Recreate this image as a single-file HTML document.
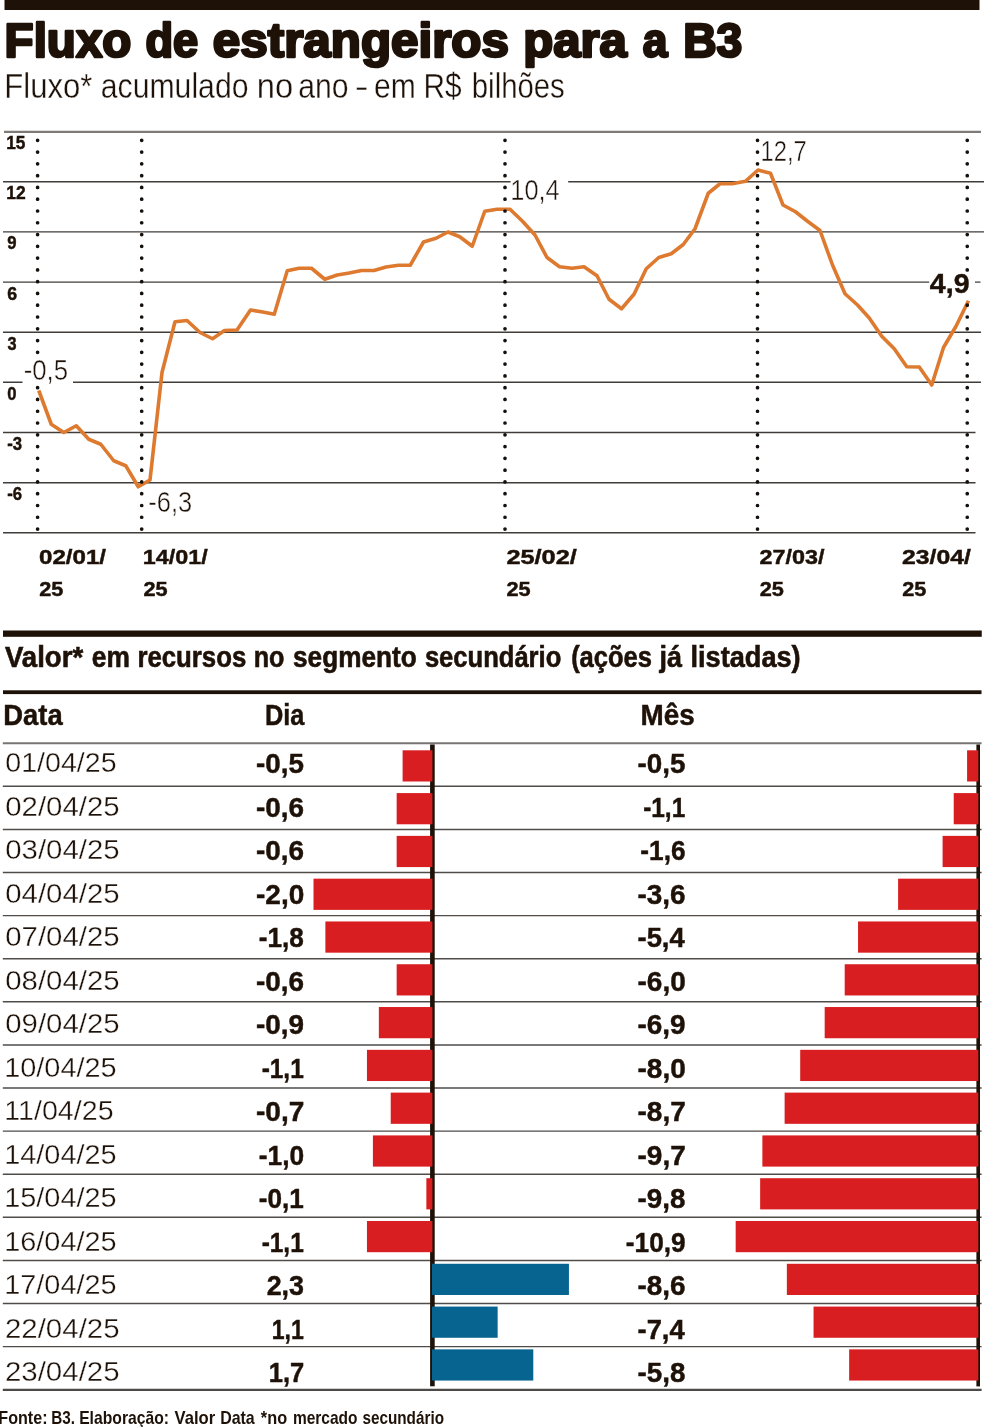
<!DOCTYPE html>
<html lang="pt-BR">
<head>
<meta charset="utf-8">
<title>Fluxo de estrangeiros para a B3</title>
<style>
html,body{margin:0;padding:0;background:#fff;}
body{width:984px;height:1427px;overflow:hidden;font-family:"Liberation Sans",sans-serif;}
svg{display:block;font-family:"Liberation Sans",sans-serif;will-change:transform;}
text{white-space:pre;}
</style>
</head>
<body>
<svg width="984" height="1427" viewBox="0 0 984 1427" font-family="'Liberation Sans', sans-serif" role="img" aria-label="Fluxo de estrangeiros para a B3">
<rect x="0" y="0" width="984" height="1427" fill="#ffffff"/>
<rect x="4.50" y="0.00" width="975.00" height="10.00" fill="#1d1108"/>
<g>
<text x="4.62" y="57.10" font-size="47.38" font-weight="700" textLength="126.74" lengthAdjust="spacingAndGlyphs" fill="#1d1108" stroke="#1d1108" stroke-width="2.6" stroke-linejoin="round">Fluxo</text>
<text x="145.44" y="57.10" font-size="47.38" font-weight="700" textLength="52.80" lengthAdjust="spacingAndGlyphs" fill="#1d1108" stroke="#1d1108" stroke-width="2.6" stroke-linejoin="round">de</text>
<text x="212.87" y="57.10" font-size="47.38" font-weight="700" textLength="296.05" lengthAdjust="spacingAndGlyphs" fill="#1d1108" stroke="#1d1108" stroke-width="2.6" stroke-linejoin="round">estrangeiros</text>
<text x="523.27" y="57.10" font-size="47.38" font-weight="700" textLength="103.62" lengthAdjust="spacingAndGlyphs" fill="#1d1108" stroke="#1d1108" stroke-width="2.6" stroke-linejoin="round">para</text>
<text x="642.80" y="57.10" font-size="47.38" font-weight="700" textLength="24.72" lengthAdjust="spacingAndGlyphs" fill="#1d1108" stroke="#1d1108" stroke-width="2.6" stroke-linejoin="round">a</text>
<text x="683.20" y="57.10" font-size="47.38" font-weight="700" textLength="59.17" lengthAdjust="spacingAndGlyphs" fill="#1d1108" stroke="#1d1108" stroke-width="2.6" stroke-linejoin="round">B3</text>
</g>
<g>
<text x="4.25" y="98.00" font-size="34.59" textLength="88.14" lengthAdjust="spacingAndGlyphs" fill="#1d1108" stroke="#fff" stroke-width="0.35">Fluxo*</text>
<text x="100.82" y="98.00" font-size="34.59" textLength="147.65" lengthAdjust="spacingAndGlyphs" fill="#1d1108" stroke="#fff" stroke-width="0.35">acumulado</text>
<text x="256.72" y="98.00" font-size="34.59" textLength="36.45" lengthAdjust="spacingAndGlyphs" fill="#1d1108" stroke="#fff" stroke-width="0.35">no</text>
<text x="298.22" y="98.00" font-size="34.59" textLength="50.35" lengthAdjust="spacingAndGlyphs" fill="#1d1108" stroke="#fff" stroke-width="0.35">ano</text>
<text x="354.74" y="98.00" font-size="34.59" textLength="13.91" lengthAdjust="spacingAndGlyphs" fill="#1d1108" stroke="#fff" stroke-width="0.35">-</text>
<text x="374.02" y="98.00" font-size="34.59" textLength="41.76" lengthAdjust="spacingAndGlyphs" fill="#1d1108" stroke="#fff" stroke-width="0.35">em</text>
<text x="423.55" y="98.00" font-size="34.59" textLength="38.13" lengthAdjust="spacingAndGlyphs" fill="#1d1108" stroke="#fff" stroke-width="0.35">R$</text>
<text x="471.81" y="98.00" font-size="34.59" textLength="92.95" lengthAdjust="spacingAndGlyphs" fill="#1d1108" stroke="#fff" stroke-width="0.35">bilhões</text>
</g>
<line x1="4.00" y1="131.90" x2="981.00" y2="131.90" stroke="#7d7a78" stroke-width="2.2" />
<line x1="3.00" y1="181.70" x2="984.00" y2="181.70" stroke="#403c3a" stroke-width="1.4" />
<line x1="3.00" y1="231.90" x2="984.00" y2="231.90" stroke="#403c3a" stroke-width="1.4" />
<line x1="3.00" y1="282.10" x2="980.50" y2="282.10" stroke="#403c3a" stroke-width="1.4" />
<line x1="3.00" y1="332.20" x2="981.00" y2="332.20" stroke="#403c3a" stroke-width="1.4" />
<line x1="3.00" y1="382.30" x2="981.00" y2="382.30" stroke="#403c3a" stroke-width="1.4" />
<line x1="3.00" y1="432.50" x2="975.50" y2="432.50" stroke="#403c3a" stroke-width="1.4" />
<line x1="3.00" y1="482.70" x2="975.50" y2="482.70" stroke="#403c3a" stroke-width="1.4" />
<line x1="3.00" y1="532.80" x2="975.50" y2="532.80" stroke="#403c3a" stroke-width="1.4" />
<text x="6.21" y="149.40" font-size="18.02" font-weight="700" textLength="19.16" lengthAdjust="spacingAndGlyphs" fill="#1d1108" stroke="#1d1108" stroke-width="0.45">15</text>
<text x="6.20" y="199.20" font-size="18.02" font-weight="700" textLength="19.40" lengthAdjust="spacingAndGlyphs" fill="#1d1108" stroke="#1d1108" stroke-width="0.45">12</text>
<text x="7.22" y="249.40" font-size="18.02" font-weight="700" textLength="9.30" lengthAdjust="spacingAndGlyphs" fill="#1d1108" stroke="#1d1108" stroke-width="0.45">9</text>
<text x="7.15" y="299.60" font-size="18.02" font-weight="700" textLength="9.89" lengthAdjust="spacingAndGlyphs" fill="#1d1108" stroke="#1d1108" stroke-width="0.45">6</text>
<text x="7.43" y="349.70" font-size="18.02" font-weight="700" textLength="9.06" lengthAdjust="spacingAndGlyphs" fill="#1d1108" stroke="#1d1108" stroke-width="0.45">3</text>
<text x="7.34" y="399.80" font-size="18.02" font-weight="700" textLength="9.24" lengthAdjust="spacingAndGlyphs" fill="#1d1108" stroke="#1d1108" stroke-width="0.45">0</text>
<text x="7.15" y="450.00" font-size="18.02" font-weight="700" textLength="14.86" lengthAdjust="spacingAndGlyphs" fill="#1d1108" stroke="#1d1108" stroke-width="0.45">-3</text>
<text x="7.15" y="500.20" font-size="18.02" font-weight="700" textLength="14.86" lengthAdjust="spacingAndGlyphs" fill="#1d1108" stroke="#1d1108" stroke-width="0.45">-6</text>
<polyline fill="none" stroke="#dd7a2f" stroke-width="3.6" stroke-linejoin="round" stroke-linecap="butt" points="38.75,390.50 51.25,424.25 63.75,432.50 76.25,425.75 88.75,439.25 100.75,444.25 113.75,460.75 125.75,465.75 138.25,486.75 150.00,480.00 162.00,372.50 175.00,321.75 187.00,320.50 200.00,332.50 212.50,338.75 224.50,330.50 237.00,330.00 250.50,310.00 262.75,312.00 274.25,314.25 287.25,270.75 299.00,268.25 311.50,268.25 324.75,279.25 337.25,275.00 349.25,273.00 361.50,270.50 374.00,270.50 386.00,267.00 398.50,265.25 410.25,265.25 423.50,242.00 436.00,238.25 448.00,232.00 459.75,236.75 472.25,246.25 484.75,211.25 497.00,209.25 510.00,209.25 522.50,221.25 535.00,235.00 547.00,257.50 559.50,266.75 572.00,268.25 584.00,266.75 597.00,275.75 609.00,299.25 621.50,308.75 634.00,294.25 646.25,268.75 658.75,257.50 671.25,253.75 683.25,244.50 695.00,228.75 708.25,193.25 720.00,183.75 732.00,183.75 745.50,181.25 758.00,170.00 770.50,173.25 783.00,205.00 795.50,211.75 807.50,221.25 820.00,230.50 832.50,265.00 845.00,293.75 857.50,305.00 869.25,318.00 881.75,336.25 894.25,348.75 906.75,366.75 919.25,367.00 931.75,385.00 943.50,347.50 956.00,326.25 968.50,300.75"/>
<line x1="37.60" y1="140.30" x2="37.60" y2="530.00" stroke="#15100c" stroke-width="3.7" stroke-dasharray="0 11.78" stroke-linecap="round"/>
<line x1="141.70" y1="140.30" x2="141.70" y2="530.00" stroke="#15100c" stroke-width="3.7" stroke-dasharray="0 11.78" stroke-linecap="round"/>
<line x1="505.00" y1="140.30" x2="505.00" y2="530.00" stroke="#15100c" stroke-width="3.7" stroke-dasharray="0 11.78" stroke-linecap="round"/>
<line x1="757.50" y1="140.30" x2="757.50" y2="530.00" stroke="#15100c" stroke-width="3.7" stroke-dasharray="0 11.78" stroke-linecap="round"/>
<line x1="967.25" y1="140.30" x2="967.25" y2="530.00" stroke="#15100c" stroke-width="3.7" stroke-dasharray="0 11.78" stroke-linecap="round"/>
<rect x="22.50" y="358.00" width="50.50" height="27.00" fill="#fff"/>
<rect x="510.60" y="177.00" width="57.60" height="26.00" fill="#fff"/>
<rect x="929.20" y="272.20" width="45.80" height="24.80" fill="#fff"/>
<text x="23.65" y="379.90" font-size="29.07" textLength="44.43" lengthAdjust="spacingAndGlyphs" fill="#1d1108" stroke="#fff" stroke-width="0.45">-0,5</text>
<text x="148.27" y="512.20" font-size="29.07" textLength="43.85" lengthAdjust="spacingAndGlyphs" fill="#1d1108" stroke="#fff" stroke-width="0.45">-6,3</text>
<text x="510.37" y="200.20" font-size="29.07" textLength="49.38" lengthAdjust="spacingAndGlyphs" fill="#1d1108" stroke="#fff" stroke-width="0.45">10,4</text>
<text x="760.49" y="161.40" font-size="29.07" textLength="46.20" lengthAdjust="spacingAndGlyphs" fill="#1d1108" stroke="#fff" stroke-width="0.45">12,7</text>
<text x="929.87" y="292.60" font-size="28.05" font-weight="700" textLength="39.69" lengthAdjust="spacingAndGlyphs" fill="#1d1108" stroke="#1d1108" stroke-width="0.45">4,9</text>
<text x="39.05" y="563.60" font-size="20.93" font-weight="700" textLength="66.99" lengthAdjust="spacingAndGlyphs" fill="#1d1108" stroke="#1d1108" stroke-width="0.45">02/01/</text>
<text x="39.25" y="595.90" font-size="20.93" font-weight="700" textLength="24.16" lengthAdjust="spacingAndGlyphs" fill="#1d1108" stroke="#1d1108" stroke-width="0.45">25</text>
<text x="142.73" y="563.60" font-size="20.93" font-weight="700" textLength="64.90" lengthAdjust="spacingAndGlyphs" fill="#1d1108" stroke="#1d1108" stroke-width="0.45">14/01/</text>
<text x="143.45" y="595.90" font-size="20.93" font-weight="700" textLength="24.16" lengthAdjust="spacingAndGlyphs" fill="#1d1108" stroke="#1d1108" stroke-width="0.45">25</text>
<text x="506.42" y="563.60" font-size="20.93" font-weight="700" textLength="70.43" lengthAdjust="spacingAndGlyphs" fill="#1d1108" stroke="#1d1108" stroke-width="0.45">25/02/</text>
<text x="506.55" y="595.90" font-size="20.93" font-weight="700" textLength="24.16" lengthAdjust="spacingAndGlyphs" fill="#1d1108" stroke="#1d1108" stroke-width="0.45">25</text>
<text x="759.59" y="563.60" font-size="20.93" font-weight="700" textLength="64.99" lengthAdjust="spacingAndGlyphs" fill="#1d1108" stroke="#1d1108" stroke-width="0.45">27/03/</text>
<text x="759.65" y="595.90" font-size="20.93" font-weight="700" textLength="24.16" lengthAdjust="spacingAndGlyphs" fill="#1d1108" stroke="#1d1108" stroke-width="0.45">25</text>
<text x="902.04" y="563.60" font-size="20.93" font-weight="700" textLength="68.80" lengthAdjust="spacingAndGlyphs" fill="#1d1108" stroke="#1d1108" stroke-width="0.45">23/04/</text>
<text x="902.15" y="595.90" font-size="20.93" font-weight="700" textLength="24.16" lengthAdjust="spacingAndGlyphs" fill="#1d1108" stroke="#1d1108" stroke-width="0.45">25</text>
<rect x="3.00" y="630.50" width="978.75" height="6.30" fill="#1d1108"/>
<g>
<text x="4.92" y="666.80" font-size="28.92" font-weight="700" textLength="78.21" lengthAdjust="spacingAndGlyphs" fill="#1d1108" stroke="#1d1108" stroke-width="0.6">Valor*</text>
<text x="91.87" y="666.80" font-size="28.92" font-weight="700" textLength="38.06" lengthAdjust="spacingAndGlyphs" fill="#1d1108" stroke="#1d1108" stroke-width="0.6">em</text>
<text x="137.40" y="666.80" font-size="28.92" font-weight="700" textLength="108.86" lengthAdjust="spacingAndGlyphs" fill="#1d1108" stroke="#1d1108" stroke-width="0.6">recursos</text>
<text x="253.74" y="666.80" font-size="28.92" font-weight="700" textLength="30.74" lengthAdjust="spacingAndGlyphs" fill="#1d1108" stroke="#1d1108" stroke-width="0.6">no</text>
<text x="293.08" y="666.80" font-size="28.92" font-weight="700" textLength="123.54" lengthAdjust="spacingAndGlyphs" fill="#1d1108" stroke="#1d1108" stroke-width="0.6">segmento</text>
<text x="424.90" y="666.80" font-size="28.92" font-weight="700" textLength="136.40" lengthAdjust="spacingAndGlyphs" fill="#1d1108" stroke="#1d1108" stroke-width="0.6">secundário</text>
<text x="571.13" y="666.80" font-size="28.92" font-weight="700" textLength="80.82" lengthAdjust="spacingAndGlyphs" fill="#1d1108" stroke="#1d1108" stroke-width="0.6">(ações</text>
<text x="659.52" y="666.80" font-size="28.92" font-weight="700" textLength="22.51" lengthAdjust="spacingAndGlyphs" fill="#1d1108" stroke="#1d1108" stroke-width="0.6">já</text>
<text x="690.50" y="666.80" font-size="28.92" font-weight="700" textLength="110.15" lengthAdjust="spacingAndGlyphs" fill="#1d1108" stroke="#1d1108" stroke-width="0.6">listadas)</text>
</g>
<rect x="3.00" y="690.30" width="978.50" height="3.80" fill="#1d1108"/>
<text x="3.27" y="724.80" font-size="28.78" font-weight="700" textLength="59.36" lengthAdjust="spacingAndGlyphs" fill="#1d1108" stroke="#1d1108" stroke-width="0.45">Data</text>
<text x="265.00" y="724.80" font-size="28.78" font-weight="700" textLength="39.43" lengthAdjust="spacingAndGlyphs" fill="#1d1108" stroke="#1d1108" stroke-width="0.45">Dia</text>
<text x="640.44" y="724.80" font-size="28.78" font-weight="700" textLength="54.21" lengthAdjust="spacingAndGlyphs" fill="#1d1108" stroke="#1d1108" stroke-width="0.45">Mês</text>
<line x1="2.80" y1="743.20" x2="981.60" y2="743.20" stroke="#777472" stroke-width="2.0" />
<line x1="2.80" y1="786.30" x2="981.60" y2="786.30" stroke="#4f4c4a" stroke-width="1.45" />
<line x1="2.80" y1="829.40" x2="981.60" y2="829.40" stroke="#4f4c4a" stroke-width="1.45" />
<line x1="2.80" y1="872.50" x2="981.60" y2="872.50" stroke="#4f4c4a" stroke-width="1.45" />
<line x1="2.80" y1="915.60" x2="981.60" y2="915.60" stroke="#4f4c4a" stroke-width="1.45" />
<line x1="2.80" y1="958.70" x2="981.60" y2="958.70" stroke="#4f4c4a" stroke-width="1.45" />
<line x1="2.80" y1="1001.80" x2="981.60" y2="1001.80" stroke="#4f4c4a" stroke-width="1.45" />
<line x1="2.80" y1="1044.90" x2="981.60" y2="1044.90" stroke="#4f4c4a" stroke-width="1.45" />
<line x1="2.80" y1="1088.00" x2="981.60" y2="1088.00" stroke="#4f4c4a" stroke-width="1.45" />
<line x1="2.80" y1="1131.10" x2="981.60" y2="1131.10" stroke="#4f4c4a" stroke-width="1.45" />
<line x1="2.80" y1="1174.20" x2="981.60" y2="1174.20" stroke="#4f4c4a" stroke-width="1.45" />
<line x1="2.80" y1="1217.30" x2="981.60" y2="1217.30" stroke="#4f4c4a" stroke-width="1.45" />
<line x1="2.80" y1="1260.40" x2="981.60" y2="1260.40" stroke="#4f4c4a" stroke-width="1.45" />
<line x1="2.80" y1="1303.50" x2="981.60" y2="1303.50" stroke="#4f4c4a" stroke-width="1.45" />
<line x1="2.80" y1="1346.60" x2="981.60" y2="1346.60" stroke="#4f4c4a" stroke-width="1.45" />
<line x1="2.80" y1="1389.90" x2="981.60" y2="1389.90" stroke="#4d4a48" stroke-width="2.2" />
<rect x="430.10" y="744.50" width="4.60" height="641.80" fill="#1d1108"/>
<rect x="976.40" y="744.50" width="3.60" height="641.90" fill="#1d1108"/>
<rect x="402.60" y="750.30" width="29.80" height="31.20" fill="#d81e20"/>
<rect x="967.08" y="750.30" width="11.22" height="31.20" fill="#d81e20"/>
<rect x="396.66" y="793.09" width="35.74" height="31.20" fill="#d81e20"/>
<rect x="953.73" y="793.09" width="24.57" height="31.20" fill="#d81e20"/>
<rect x="396.66" y="835.88" width="35.74" height="31.20" fill="#d81e20"/>
<rect x="942.60" y="835.88" width="35.70" height="31.20" fill="#d81e20"/>
<rect x="313.50" y="878.67" width="118.90" height="31.20" fill="#d81e20"/>
<rect x="898.10" y="878.67" width="80.20" height="31.20" fill="#d81e20"/>
<rect x="325.38" y="921.46" width="107.02" height="31.20" fill="#d81e20"/>
<rect x="858.05" y="921.46" width="120.25" height="31.20" fill="#d81e20"/>
<rect x="396.66" y="964.25" width="35.74" height="31.20" fill="#d81e20"/>
<rect x="844.70" y="964.25" width="133.60" height="31.20" fill="#d81e20"/>
<rect x="378.84" y="1007.04" width="53.56" height="31.20" fill="#d81e20"/>
<rect x="824.68" y="1007.04" width="153.62" height="31.20" fill="#d81e20"/>
<rect x="366.96" y="1049.83" width="65.44" height="31.20" fill="#d81e20"/>
<rect x="800.20" y="1049.83" width="178.10" height="31.20" fill="#d81e20"/>
<rect x="390.72" y="1092.62" width="41.68" height="31.20" fill="#d81e20"/>
<rect x="784.62" y="1092.62" width="193.67" height="31.20" fill="#d81e20"/>
<rect x="372.90" y="1135.41" width="59.50" height="31.20" fill="#d81e20"/>
<rect x="762.38" y="1135.41" width="215.92" height="31.20" fill="#d81e20"/>
<rect x="426.36" y="1178.20" width="6.04" height="31.20" fill="#d81e20"/>
<rect x="760.15" y="1178.20" width="218.15" height="31.20" fill="#d81e20"/>
<rect x="366.96" y="1220.99" width="65.44" height="31.20" fill="#d81e20"/>
<rect x="735.68" y="1220.99" width="242.62" height="31.20" fill="#d81e20"/>
<rect x="432.00" y="1263.78" width="136.92" height="31.20" fill="#07638f"/>
<rect x="786.85" y="1263.78" width="191.45" height="31.20" fill="#d81e20"/>
<rect x="432.00" y="1306.57" width="65.64" height="31.20" fill="#07638f"/>
<rect x="813.55" y="1306.57" width="164.75" height="31.20" fill="#d81e20"/>
<rect x="432.00" y="1349.36" width="101.28" height="31.20" fill="#07638f"/>
<rect x="849.15" y="1349.36" width="129.15" height="31.20" fill="#d81e20"/>
<text x="5.28" y="772.10" font-size="27.91" textLength="111.32" lengthAdjust="spacingAndGlyphs" fill="#1d1108" stroke="#fff" stroke-width="0.35">01/04/25</text>
<text x="256.02" y="773.00" font-size="28.05" font-weight="700" textLength="47.86" lengthAdjust="spacingAndGlyphs" fill="#1d1108" stroke="#1d1108" stroke-width="0.45">-0,5</text>
<text x="637.52" y="773.00" font-size="28.05" font-weight="700" textLength="47.86" lengthAdjust="spacingAndGlyphs" fill="#1d1108" stroke="#1d1108" stroke-width="0.45">-0,5</text>
<text x="5.25" y="815.61" font-size="27.91" textLength="114.38" lengthAdjust="spacingAndGlyphs" fill="#1d1108" stroke="#fff" stroke-width="0.35">02/04/25</text>
<text x="256.01" y="816.51" font-size="28.05" font-weight="700" textLength="48.10" lengthAdjust="spacingAndGlyphs" fill="#1d1108" stroke="#1d1108" stroke-width="0.45">-0,6</text>
<text x="643.14" y="816.51" font-size="28.05" font-weight="700" textLength="42.14" lengthAdjust="spacingAndGlyphs" fill="#1d1108" stroke="#1d1108" stroke-width="0.45">-1,1</text>
<text x="5.25" y="859.12" font-size="27.91" textLength="114.38" lengthAdjust="spacingAndGlyphs" fill="#1d1108" stroke="#fff" stroke-width="0.35">03/04/25</text>
<text x="256.01" y="860.02" font-size="28.05" font-weight="700" textLength="48.10" lengthAdjust="spacingAndGlyphs" fill="#1d1108" stroke="#1d1108" stroke-width="0.45">-0,6</text>
<text x="640.32" y="860.02" font-size="28.05" font-weight="700" textLength="45.22" lengthAdjust="spacingAndGlyphs" fill="#1d1108" stroke="#1d1108" stroke-width="0.45">-1,6</text>
<text x="5.25" y="902.63" font-size="27.91" textLength="114.38" lengthAdjust="spacingAndGlyphs" fill="#1d1108" stroke="#fff" stroke-width="0.35">04/04/25</text>
<text x="256.01" y="903.53" font-size="28.05" font-weight="700" textLength="48.24" lengthAdjust="spacingAndGlyphs" fill="#1d1108" stroke="#1d1108" stroke-width="0.45">-2,0</text>
<text x="637.51" y="903.53" font-size="28.05" font-weight="700" textLength="48.10" lengthAdjust="spacingAndGlyphs" fill="#1d1108" stroke="#1d1108" stroke-width="0.45">-3,6</text>
<text x="5.25" y="946.14" font-size="27.91" textLength="114.38" lengthAdjust="spacingAndGlyphs" fill="#1d1108" stroke="#fff" stroke-width="0.35">07/04/25</text>
<text x="258.83" y="947.04" font-size="28.05" font-weight="700" textLength="45.08" lengthAdjust="spacingAndGlyphs" fill="#1d1108" stroke="#1d1108" stroke-width="0.45">-1,8</text>
<text x="637.53" y="947.04" font-size="28.05" font-weight="700" textLength="47.22" lengthAdjust="spacingAndGlyphs" fill="#1d1108" stroke="#1d1108" stroke-width="0.45">-5,4</text>
<text x="5.25" y="989.65" font-size="27.91" textLength="114.38" lengthAdjust="spacingAndGlyphs" fill="#1d1108" stroke="#fff" stroke-width="0.35">08/04/25</text>
<text x="256.01" y="990.55" font-size="28.05" font-weight="700" textLength="48.10" lengthAdjust="spacingAndGlyphs" fill="#1d1108" stroke="#1d1108" stroke-width="0.45">-0,6</text>
<text x="637.51" y="990.55" font-size="28.05" font-weight="700" textLength="48.24" lengthAdjust="spacingAndGlyphs" fill="#1d1108" stroke="#1d1108" stroke-width="0.45">-6,0</text>
<text x="5.25" y="1033.16" font-size="27.91" textLength="114.38" lengthAdjust="spacingAndGlyphs" fill="#1d1108" stroke="#fff" stroke-width="0.35">09/04/25</text>
<text x="256.01" y="1034.06" font-size="28.05" font-weight="700" textLength="48.13" lengthAdjust="spacingAndGlyphs" fill="#1d1108" stroke="#1d1108" stroke-width="0.45">-0,9</text>
<text x="637.51" y="1034.06" font-size="28.05" font-weight="700" textLength="48.13" lengthAdjust="spacingAndGlyphs" fill="#1d1108" stroke="#1d1108" stroke-width="0.45">-6,9</text>
<text x="4.20" y="1076.67" font-size="27.91" textLength="112.41" lengthAdjust="spacingAndGlyphs" fill="#1d1108" stroke="#fff" stroke-width="0.35">10/04/25</text>
<text x="261.64" y="1077.57" font-size="28.05" font-weight="700" textLength="42.14" lengthAdjust="spacingAndGlyphs" fill="#1d1108" stroke="#1d1108" stroke-width="0.45">-1,1</text>
<text x="637.51" y="1077.57" font-size="28.05" font-weight="700" textLength="48.24" lengthAdjust="spacingAndGlyphs" fill="#1d1108" stroke="#1d1108" stroke-width="0.45">-8,0</text>
<text x="4.26" y="1120.18" font-size="27.91" textLength="109.32" lengthAdjust="spacingAndGlyphs" fill="#1d1108" stroke="#fff" stroke-width="0.35">11/04/25</text>
<text x="256.00" y="1121.08" font-size="28.05" font-weight="700" textLength="48.33" lengthAdjust="spacingAndGlyphs" fill="#1d1108" stroke="#1d1108" stroke-width="0.45">-0,7</text>
<text x="637.50" y="1121.08" font-size="28.05" font-weight="700" textLength="48.33" lengthAdjust="spacingAndGlyphs" fill="#1d1108" stroke="#1d1108" stroke-width="0.45">-8,7</text>
<text x="4.20" y="1163.69" font-size="27.91" textLength="112.41" lengthAdjust="spacingAndGlyphs" fill="#1d1108" stroke="#fff" stroke-width="0.35">14/04/25</text>
<text x="258.82" y="1164.59" font-size="28.05" font-weight="700" textLength="45.36" lengthAdjust="spacingAndGlyphs" fill="#1d1108" stroke="#1d1108" stroke-width="0.45">-1,0</text>
<text x="637.50" y="1164.59" font-size="28.05" font-weight="700" textLength="48.33" lengthAdjust="spacingAndGlyphs" fill="#1d1108" stroke="#1d1108" stroke-width="0.45">-9,7</text>
<text x="4.20" y="1207.20" font-size="27.91" textLength="112.41" lengthAdjust="spacingAndGlyphs" fill="#1d1108" stroke="#fff" stroke-width="0.35">15/04/25</text>
<text x="258.83" y="1208.10" font-size="28.05" font-weight="700" textLength="45.00" lengthAdjust="spacingAndGlyphs" fill="#1d1108" stroke="#1d1108" stroke-width="0.45">-0,1</text>
<text x="637.51" y="1208.10" font-size="28.05" font-weight="700" textLength="47.94" lengthAdjust="spacingAndGlyphs" fill="#1d1108" stroke="#1d1108" stroke-width="0.45">-9,8</text>
<text x="4.20" y="1250.71" font-size="27.91" textLength="112.41" lengthAdjust="spacingAndGlyphs" fill="#1d1108" stroke="#fff" stroke-width="0.35">16/04/25</text>
<text x="261.64" y="1251.61" font-size="28.05" font-weight="700" textLength="42.14" lengthAdjust="spacingAndGlyphs" fill="#1d1108" stroke="#1d1108" stroke-width="0.45">-1,1</text>
<text x="625.83" y="1251.61" font-size="28.05" font-weight="700" textLength="59.75" lengthAdjust="spacingAndGlyphs" fill="#1d1108" stroke="#1d1108" stroke-width="0.45">-10,9</text>
<text x="4.20" y="1294.22" font-size="27.91" textLength="112.41" lengthAdjust="spacingAndGlyphs" fill="#1d1108" stroke="#fff" stroke-width="0.35">17/04/25</text>
<text x="266.67" y="1295.12" font-size="28.05" font-weight="700" textLength="37.41" lengthAdjust="spacingAndGlyphs" fill="#1d1108" stroke="#1d1108" stroke-width="0.45">2,3</text>
<text x="637.51" y="1295.12" font-size="28.05" font-weight="700" textLength="48.10" lengthAdjust="spacingAndGlyphs" fill="#1d1108" stroke="#1d1108" stroke-width="0.45">-8,6</text>
<text x="4.92" y="1337.73" font-size="27.91" textLength="114.72" lengthAdjust="spacingAndGlyphs" fill="#1d1108" stroke="#fff" stroke-width="0.35">22/04/25</text>
<text x="271.65" y="1338.63" font-size="28.05" font-weight="700" textLength="32.10" lengthAdjust="spacingAndGlyphs" fill="#1d1108" stroke="#1d1108" stroke-width="0.45">1,1</text>
<text x="637.53" y="1338.63" font-size="28.05" font-weight="700" textLength="47.22" lengthAdjust="spacingAndGlyphs" fill="#1d1108" stroke="#1d1108" stroke-width="0.45">-7,4</text>
<text x="4.92" y="1381.24" font-size="27.91" textLength="114.72" lengthAdjust="spacingAndGlyphs" fill="#1d1108" stroke="#fff" stroke-width="0.35">23/04/25</text>
<text x="268.74" y="1382.14" font-size="28.05" font-weight="700" textLength="35.48" lengthAdjust="spacingAndGlyphs" fill="#1d1108" stroke="#1d1108" stroke-width="0.45">1,7</text>
<text x="637.51" y="1382.14" font-size="28.05" font-weight="700" textLength="47.94" lengthAdjust="spacingAndGlyphs" fill="#1d1108" stroke="#1d1108" stroke-width="0.45">-5,8</text>
<g>
<text x="-1.68" y="1423.70" font-size="18.17" font-weight="700" textLength="49.23" lengthAdjust="spacingAndGlyphs" fill="#1d1108" >Fonte:</text>
<text x="51.18" y="1423.70" font-size="18.17" font-weight="700" textLength="23.77" lengthAdjust="spacingAndGlyphs" fill="#1d1108" >B3.</text>
<text x="79.15" y="1423.70" font-size="18.17" font-weight="700" textLength="89.86" lengthAdjust="spacingAndGlyphs" fill="#1d1108" >Elaboração:</text>
<text x="174.49" y="1423.70" font-size="18.17" font-weight="700" textLength="40.66" lengthAdjust="spacingAndGlyphs" fill="#1d1108" >Valor</text>
<text x="220.13" y="1423.70" font-size="18.17" font-weight="700" textLength="34.57" lengthAdjust="spacingAndGlyphs" fill="#1d1108" >Data</text>
<text x="260.85" y="1423.70" font-size="18.17" font-weight="700" textLength="26.29" lengthAdjust="spacingAndGlyphs" fill="#1d1108" >*no</text>
<text x="292.88" y="1423.70" font-size="18.17" font-weight="700" textLength="64.63" lengthAdjust="spacingAndGlyphs" fill="#1d1108" >mercado</text>
<text x="362.46" y="1423.70" font-size="18.17" font-weight="700" textLength="81.53" lengthAdjust="spacingAndGlyphs" fill="#1d1108" >secundário</text>
</g>
</svg>
</body>
</html>
